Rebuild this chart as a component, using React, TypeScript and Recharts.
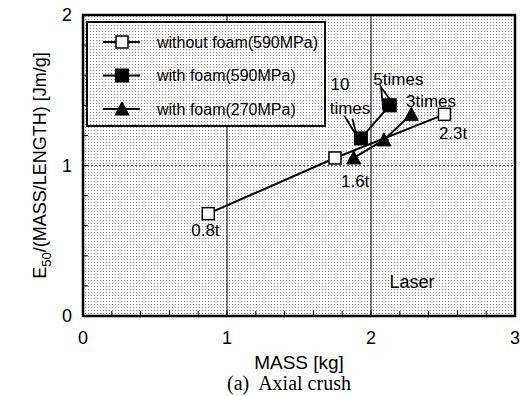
import React from 'react';
import {
  ComposedChart,
  Scatter,
  XAxis,
  YAxis,
  ReferenceLine,
  ReferenceArea,
  ReferenceDot,
  Legend,
} from 'recharts';

// ---------- data ----------
const withoutFoam590 = [
  { x: 0.87, y: 0.68 },
  { x: 1.75, y: 1.05 },
  { x: 2.51, y: 1.34 },
];
const withFoam590 = [
  { x: 1.93, y: 1.18 },
  { x: 2.13, y: 1.4 },
];
const withFoam270 = [
  { x: 1.88, y: 1.05 },
  { x: 2.09, y: 1.17 },
  { x: 2.28, y: 1.34 },
];
const seriesNames = ['without foam(590MPa)', 'with foam(590MPa)', 'with foam(270MPa)'];

const xTicks = [0, 0.2, 0.4, 0.6, 0.8, 1, 1.2, 1.4, 1.6, 1.8, 2, 2.2, 2.4, 2.6, 2.8, 3];
const yTicks = [0, 0.2, 0.4, 0.6, 0.8, 1, 1.2, 1.4, 1.6, 1.8, 2];
const majorTicks = [0, 1, 2, 3];

const thicknessLabels = [
  { x: 0.85, y: 0.57, text: '0.8t' },
  { x: 1.89, y: 0.895, text: '1.6t' },
  { x: 2.57, y: 1.216, text: '2.3t' },
];
const timesLabels = [
  { x: 1.785, y: 1.54, text: '10' },
  { x: 1.854, y: 1.382, text: 'times' },
  { x: 2.19, y: 1.575, text: '5times' },
  { x: 2.417, y: 1.43, text: '3times' },
];
const regionLabels = [{ x: 2.285, y: 0.226, text: 'Laser' }];
// callout wedges (apex, tip, apex)
const callout10 = [
  { x: 1.815, y: 1.33 },
  { x: 1.905, y: 1.19 },
  { x: 1.87, y: 1.31 },
];
const callout5 = [
  { x: 2.085, y: 1.37 },
  { x: 2.07, y: 1.52 },
  { x: 2.13, y: 1.44 },
];
const callouts = [callout10, callout5];

const FONT = '"Liberation Sans", Arial, Helvetica, sans-serif';

// ---------- markers ----------
const OpenSquare = (p: any) => (
  <rect x={p.cx - 6} y={p.cy - 6} width={12} height={12} fill="#fff" stroke="#000" strokeWidth={1.5} />
);
const FilledSquare = (p: any) => (
  <rect x={p.cx - 6.5} y={p.cy - 6.5} width={13} height={13} fill="#000" stroke="#000" />
);
const Triangle = (p: any) => (
  <polygon
    points={`${p.cx},${p.cy - 7} ${p.cx + 7},${p.cy + 6} ${p.cx - 7},${p.cy + 6}`}
    fill="#000"
    stroke="#000"
  />
);
const NoMarker = () => null;
const markers = [OpenSquare, FilledSquare, Triangle];

// ---------- ticks ----------
const YTick = (props: any) => {
  const { x, y, payload } = props;
  const v = payload.value;
  const edge = x + 11;
  const major = majorTicks.includes(v);
  return (
    <g>
      <line x1={edge} x2={edge + 5} y1={y} y2={y} stroke="#000" strokeWidth={1} />
      {major && (
        <text x={x} y={y} dy="0.35em" textAnchor="end" fontSize={18} fontFamily={FONT} fill="#000">
          {v}
        </text>
      )}
    </g>
  );
};
const XTick = (props: any) => {
  const { x, y, payload } = props;
  const v = payload.value;
  const major = majorTicks.includes(v);
  return (
    <g>
      <line x1={x} x2={x} y1={y} y2={y - 5} stroke="#000" strokeWidth={1} />
      {major && (
        <text x={x} y={y + 22} dy="0.35em" textAnchor="middle" fontSize={18} fontFamily={FONT} fill="#000">
          {v}
        </text>
      )}
    </g>
  );
};

const XLabel = (props: any) => {
  const vb = props.viewBox;
  const cx = vb.x + vb.width / 2;
  return (
    <g>
      <text x={cx} y={vb.y + 46} dy="0.35em" textAnchor="middle" fontSize={19} fontFamily={FONT} fill="#000">
        MASS [kg]
      </text>
      <text
        x={cx - 10}
        y={vb.y + 67}
        dy="0.35em"
        textAnchor="middle"
        fontSize={20}
        fontFamily='"Liberation Serif", "Times New Roman", serif'
        fill="#000"
        style={{ whiteSpace: 'pre' }}
      >
        {'(a)  Axial crush'}
      </text>
    </g>
  );
};

const YLabel = (props: any) => {
  const vb = props.viewBox;
  const cx = 40;
  const cy = vb.y + vb.height / 2;
  return (
    <text
      x={cx}
      y={cy}
      dy="0.35em"
      textAnchor="middle"
      fontSize={18}
      fontFamily={FONT}
      fill="#000"
      transform={`rotate(-90 ${cx} ${cy})`}
    >
      <tspan>E</tspan>
      <tspan fontSize={13} dy="5">50</tspan>
      <tspan dy="-5">/(MASS/LENGTH) [Jm/g]</tspan>
    </text>
  );
};

const renderLegend = () => (
  <svg width={240} height={106} style={{ display: 'block' }}>
    <rect x={1} y={1} width={238} height={104} fill="url(#stipple)" stroke="#000" strokeWidth={2} />
    {seriesNames.map((n, i) => {
      const cy = 21 + i * 33.5;
      const M = markers[i];
      return (
        <g key={n}>
          <line x1={17} x2={54} y1={cy} y2={cy} stroke="#000" strokeWidth={2} />
          <M cx={36} cy={cy} />
          <text x={71} y={cy} dy="0.35em" fontSize={16} fontFamily={FONT} fill="#000">
            {n}
          </text>
        </g>
      );
    })}
  </svg>
);

const textLabel = (text: string, size: number) => ({
  value: text,
  position: 'center' as const,
  fontSize: size,
  fontFamily: FONT,
  fill: '#000',
});

export default function App() {
  const seriesData = [withoutFoam590, withFoam590, withFoam270];
  return (
    <div style={{ position: 'absolute', left: 0, top: 0, width: 521, height: 396, background: '#fff' }}>
      <svg width={0} height={0} style={{ position: 'absolute' }}>
        <defs>
          <pattern id="stipple" width={3} height={3} patternUnits="userSpaceOnUse">
            <rect width={3} height={3} fill="#fff" />
            <rect x={1} y={1} width={1} height={1} fill="#8a8a8a" />
          </pattern>
        </defs>
      </svg>
      <ComposedChart width={521} height={396} margin={{ top: 15, right: 6, bottom: 10, left: 0 }}>
        <XAxis
          type="number"
          dataKey="x"
          domain={[0, 3]}
          ticks={xTicks}
          interval={0}
          tickSize={0}
          tickMargin={0}
          axisLine={false}
          tickLine={false}
          tick={<XTick />}
          height={70}
          label={<XLabel />}
          allowDataOverflow
        />
        <YAxis
          type="number"
          dataKey="y"
          domain={[0, 2]}
          ticks={yTicks}
          interval={0}
          tickSize={0}
          tickMargin={11}
          axisLine={false}
          tickLine={false}
          tick={<YTick />}
          width={83}
          label={<YLabel />}
          allowDataOverflow
        />
        <ReferenceArea x1={0} x2={3} y1={0} y2={2} fill="url(#stipple)" fillOpacity={1} stroke="none" />
        <ReferenceLine x={1} stroke="#000" strokeWidth={1} />
        <ReferenceLine x={2} stroke="#000" strokeWidth={1} />
        <ReferenceLine y={1} stroke="#444" strokeWidth={1} strokeDasharray="2 2" />
        <ReferenceArea x1={0} x2={3} y1={0} y2={2} fill="none" stroke="#000" strokeWidth={2.5} />
        {seriesData.map((d, i) => (
          <Scatter
            key={seriesNames[i]}
            name={seriesNames[i]}
            data={d}
            line={{ stroke: '#000', strokeWidth: 2 }}
            lineType="joint"
            shape={markers[i]}
            isAnimationActive={false}
          />
        ))}
        {callouts.map((d, i) => (
          <Scatter
            key={'callout' + i}
            name={'callout' + i}
            data={d}
            line={{ stroke: '#000', strokeWidth: 1.8 }}
            lineType="joint"
            shape={NoMarker}
            isAnimationActive={false}
          />
        ))}
        {[...thicknessLabels, ...timesLabels].map((l) => (
          <ReferenceDot
            key={l.text}
            x={l.x}
            y={l.y}
            r={0}
            fill="none"
            stroke="none"
            ifOverflow="visible"
            label={textLabel(l.text, 17)}
          />
        ))}
        {regionLabels.map((l) => (
          <ReferenceDot
            key={l.text}
            x={l.x}
            y={l.y}
            r={0}
            fill="none"
            stroke="none"
            label={textLabel(l.text, 18)}
          />
        ))}
        <Legend
          layout="vertical"
          align="center"
          verticalAlign="middle"
          content={renderLegend}
          wrapperStyle={{ left: 86, top: 21, width: 240, height: 106 }}
        />
      </ComposedChart>
    </div>
  );
}
